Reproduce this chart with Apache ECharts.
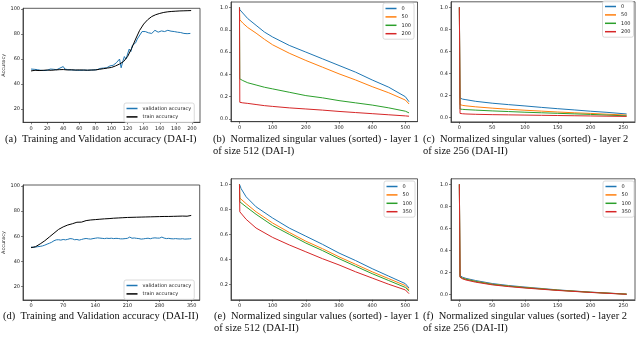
<!DOCTYPE html>
<html><head><meta charset="utf-8">
<script src="https://cdn.jsdelivr.net/npm/echarts@6/dist/echarts.min.js"></script>
<style>html,body{margin:0;padding:0;background:#fff}#c{width:640px;height:338px}</style>
</head><body><div id="c"></div>
<script>
// ---------- DATA ----------
// (a) DAI-I accuracy
const accAValX = [0,2,4,6,8,10,12,14,16,18,20,22,24,26,28,30,32,34,36,38,40,42,44,46,48,50,52,54,56,58,60,62,64,66,68,70,72,74,76,78,80,82,84,86,88,90,92,94,96,98,100,102,104,106,108,110,112,114,116,118,120,122,124,126,128,130,132,134,136,138,140,142,144,146,148,150,152,154,156,158,160,162,164,166,168,170,172,174,176,178,180,182,184,186,188,190,192,194,196,198];
const accAVal = [52,51.5,51.8,51,51.5,51.2,51,51.6,50.8,51.3,51,
  51.5,52,51.2,51.8,52.3,51.5,52,52.8,53.5,54,
  52,53,51.5,52,51.3,51.8,51.2,51.5,51,51.4,
  51,51.6,51.2,51.8,51,51.5,51.2,50.8,51.3,51,
  51.5,52,52.5,53.5,52.8,54,53,53.8,54.5,53.5,
  55,55.5,57,56,60,53,58,62,60,64,
  68,66,71,70,73,76,77,80,82,81.5,
  82,80.5,81,79.5,80.5,82,83,82,81.5,82,
  82.5,82,82,82.5,83,82.8,82.3,82.5,82,81.5,
  81.5,81,81.2,81,80.5,80.8,80.3,80.2,80.5];
const accATrainX = [0,5,10,15,20,25,30,35,40,45,50,55,60,65,70,75,80,85,90,95,100,105,110,115,120,125,130,135,140,145,150,155,160,165,170,175,180,185,190,195,199];
const accATrain = [50.5,51,50.8,51,51.2,51,51.3,51.5,51.6,51.3,51.4,51.2,51.3,51.2,51.1,51.2,51.3,51.8,52.3,52.8,53.3,54.5,56,58,62,68.5,76,83,88,91.5,94,95.5,96.5,97.3,97.8,98.1,98.3,98.5,98.6,98.7,98.8];
// (d) DAI-II accuracy
const accDValX = [0,5,10,15,20,25,30,35,40,45,50,55,60,65,70,75,80,85,90,95,100,105,110,115,120,125,130,135,140,145,150,155,160,165,170,175,180,185,190,195,200,205,210,215,220,225,230,235,240,245,250,255,260,265,270,275,280,285,290,295,300,305,310,315,320,325,330,335,340,345,349];
const accDVal = [51.5,51.2,51.5,51.8,52,52.4,53,53.8,54.5,55.3,56.5,57.2,57.3,57,57.5,57.2,57.6,58.2,58,57.3,57.5,57,57.5,58,58.3,58,57.8,58.2,58.5,58.8,58.6,58.4,58.2,58.5,58.3,58.5,58.2,58.4,58.3,58,58,58.2,58.4,59.4,58.5,58.7,58.4,58.2,57.8,58,58.3,58.5,58.1,58.6,58.8,58.6,58.6,59.4,58.6,58.2,58.4,58.1,58,58.2,58,57.9,58.1,57.8,57.9,58,58.2];
const accDTrainX = [0,10,20,30,40,50,60,70,80,90,100,110,120,130,140,150,160,170,180,190,200,210,220,230,240,250,260,270,280,290,300,310,320,330,340,349];
const accDTrain = [51,51.8,54,56.5,59.5,62.5,65.5,67.5,69,70,71.2,71.3,72.5,73,73.3,73.6,73.9,74.1,74.4,74.6,74.8,75,75.1,75.2,75.3,75.4,75.5,75.6,75.7,75.8,75.8,75.9,76,76.1,76,76.6];

// (b) DAI-I layer 1 (512)
const svBX = [0,1,10,25,50,75,100,150,200,250,300,350,400,450,500,511];
const svB0   = [1.0,0.98,0.95,0.90,0.84,0.78,0.735,0.66,0.60,0.54,0.48,0.42,0.35,0.285,0.20,0.155];
const svB50  = [1.0,0.89,0.86,0.82,0.77,0.715,0.665,0.59,0.525,0.465,0.405,0.35,0.29,0.235,0.17,0.135];
const svB100 = [1.0,0.36,0.345,0.325,0.305,0.285,0.27,0.24,0.21,0.19,0.165,0.145,0.125,0.10,0.07,0.055];
const svB200 = [1.0,0.15,0.145,0.14,0.13,0.12,0.113,0.10,0.09,0.08,0.068,0.058,0.048,0.038,0.028,0.025];
// (c) DAI-I layer 2 (256)
const svCX = [0,1,5,10,25,50,75,100,125,150,175,200,225,255];
const svC0   = [1.0,0.175,0.165,0.16,0.145,0.128,0.115,0.103,0.09,0.078,0.067,0.055,0.045,0.03];
const svC50  = [1.0,0.115,0.108,0.104,0.095,0.083,0.073,0.064,0.056,0.048,0.041,0.035,0.028,0.02];
const svC100 = [1.0,0.075,0.072,0.07,0.065,0.058,0.052,0.046,0.041,0.036,0.031,0.026,0.02,0.013];
const svC200 = [1.0,0.035,0.032,0.03,0.027,0.024,0.022,0.02,0.018,0.016,0.014,0.012,0.01,0.008];
// (e) DAI-II layer 1 (512)
const svEX = [0,1,5,20,50,100,150,200,250,300,350,400,450,500,511];
const svE0   = [1.0,0.99,0.965,0.90,0.82,0.73,0.65,0.585,0.52,0.45,0.39,0.325,0.265,0.205,0.17];
const svE50  = [1.0,0.89,0.88,0.845,0.78,0.69,0.615,0.545,0.485,0.42,0.36,0.30,0.245,0.19,0.155];
const svE100 = [1.0,0.86,0.85,0.82,0.76,0.67,0.60,0.53,0.47,0.405,0.345,0.285,0.23,0.175,0.145];
const svE350 = [1.0,0.78,0.77,0.72,0.65,0.575,0.515,0.46,0.405,0.355,0.30,0.25,0.20,0.155,0.125];
// (f) DAI-II layer 2 (256)
const svFX = [0,1,2,5,10,25,50,75,100,150,200,255];
const svF0   = [1.0,0.17,0.165,0.155,0.145,0.125,0.098,0.08,0.066,0.04,0.02,0.002];
const svF50  = [1.0,0.16,0.155,0.148,0.138,0.118,0.092,0.075,0.062,0.038,0.019,0.002];
const svF100 = [1.0,0.158,0.152,0.145,0.136,0.116,0.09,0.074,0.06,0.037,0.018,0.001];
const svF350 = [1.0,0.155,0.15,0.14,0.13,0.11,0.086,0.07,0.057,0.035,0.017,0.0];

// tick labels
const accXTicksA = [0,20,40,60,80,100,120,140,160,180,200];
const accXTicksD = [0,70,140,210,280,350];
const accYTicks = [20,40,60,80,100];
const svXTicks512 = [0,100,200,300,400,500];
const svXTicks256 = [0,50,100,150,200,250];
const svYTicks = [0,0.2,0.4,0.6,0.8,1.0];
const svYTicksE = [0.2,0.4,0.6,0.8,1.0];

const captions = [
  ['(a)  Training and Validation accuracy (DAI-I)'],
  ['(b)  Normalized singular values (sorted) - layer 1','of size 512 (DAI-I)'],
  ['(c)  Normalized singular values (sorted) - layer 2','of size 256 (DAI-II)'],
  ['(d)  Training and Validation accuracy (DAI-II)'],
  ['(e)  Normalized singular values (sorted) - layer 1','of size 512 (DAI-II)'],
  ['(f)  Normalized singular values (sorted) - layer 2','of size 256 (DAI-II)']
];

// ---------- CHART ----------
const C = ['#1f77b4','#ff7f0e','#2ca02c','#d62728'];
const zip = (xs, ys) => xs.map((x,i)=>[x, ys[i]]);
const TF = 'DejaVu Sans';
const grids = [
  {left:21.7, top:8.3, width:178.3, height:114},
  {left:231, top:2, width:186.5, height:119.7},
  {left:451, top:1.8, width:184, height:120.1},
  {left:21.5, top:185, width:178.2, height:115},
  {left:231, top:178.8, width:186.5, height:121},
  {left:451, top:178.8, width:184, height:121}
];
const xr = [[-10,210],[-25.55,536.55],[-12.75,267.75],[-17.5,367.5],[-25.55,536.55],[-12.75,267.75]];
const yr = [[9.4,100.6],[-0.024,1.049],[-0.042,1.05],[9.4,100.8],[0.076,1.044],[-0.05,1.05]];
const xt = [accXTicksA, svXTicks512, svXTicks256, accXTicksD, svXTicks512, svXTicks256];
const yt = [accYTicks, svYTicks, svYTicks, accYTicks, svYTicksE, svYTicks];

const axisCommon = {
  axisLine:{show:true,onZero:false,lineStyle:{color:'#333',width:0.8}},
  splitLine:{show:false}
};
const xAxis = grids.map((g,i)=>({
  type:'value', gridIndex:i, min:xr[i][0], max:xr[i][1], ...axisCommon,
  axisTick:{show:true,length:2,customValues:xt[i],lineStyle:{color:'#333',width:0.6}},
  axisLabel:{customValues:xt[i],fontFamily:TF,fontSize:5,color:'#222',margin:3.5}
}));
const yAxis = grids.map((g,i)=>({
  type:'value', gridIndex:i, min:yr[i][0], max:yr[i][1], ...axisCommon,
  axisTick:{show:true,length:2,customValues:yt[i],lineStyle:{color:'#333',width:0.6}},
  axisLabel:{customValues:yt[i],fontFamily:TF,fontSize:5,color:'#222',margin:3,
    formatter: (i===0||i===3) ? (v=>String(v)) : (v=>v.toFixed(1))},
  name: (i===0||i===3) ? 'Accuracy' : '', nameLocation:'middle', nameRotate:90, nameGap:17,
  nameTextStyle:{fontFamily:TF,fontSize:5,color:'#222'}
}));

const ln = (name, data, gi, color) => ({
  type:'line', name, data, xAxisIndex:gi, yAxisIndex:gi, showSymbol:false, symbol:'none',
  lineStyle:{width:1,color}, itemStyle:{color}, animation:false, silent:true
});
const series = [
  ln('validation accuracy', zip(accAValX, accAVal), 0, C[0]),
  ln('train accuracy', zip(accATrainX, accATrain), 0, '#000'),
  ln('0', zip(svBX, svB0), 1, C[0]), ln('50', zip(svBX, svB50), 1, C[1]),
  ln('100', zip(svBX, svB100), 1, C[2]), ln('200', zip(svBX, svB200), 1, C[3]),
  ln('0', zip(svCX, svC0), 2, C[0]), ln('50', zip(svCX, svC50), 2, C[1]),
  ln('100', zip(svCX, svC100), 2, C[2]), ln('200', zip(svCX, svC200), 2, C[3]),
  ln('validation accuracy', zip(accDValX, accDVal), 3, C[0]),
  ln('train accuracy', zip(accDTrainX, accDTrain), 3, '#000'),
  ln('0', zip(svEX, svE0), 4, C[0]), ln('50', zip(svEX, svE50), 4, C[1]),
  ln('100', zip(svEX, svE100), 4, C[2]), ln('350', zip(svEX, svE350), 4, C[3]),
  ln('0', zip(svFX, svF0), 5, C[0]), ln('50', zip(svFX, svF50), 5, C[1]),
  ln('100', zip(svFX, svF100), 5, C[2]), ln('350', zip(svFX, svF350), 5, C[3])
];

const legBase = {
  orient:'vertical', icon:'rect', itemWidth:11, itemHeight:1.5, itemGap:0.4,
  padding:[1.5,3,1.5,2.5], backgroundColor:'rgba(255,255,255,0.8)', borderColor:'#d0d0d0',
  borderWidth:0.8, borderRadius:2, selectedMode:false,
  textStyle:{fontFamily:TF,fontSize:5,color:'#222',lineHeight:8}
};
const legend = [
  {...legBase, left:124, top:103, data:['validation accuracy','train accuracy']},
  {...legBase, left:383, top:3, data:['0','50','100','200']},
  {...legBase, left:602.5, top:1, data:['0','50','100','200']},
  {...legBase, left:124, top:280, data:['validation accuracy','train accuracy']},
  {...legBase, left:384, top:181, data:['0','50','100','350']},
  {...legBase, left:603, top:181, data:['0','50','100','350']}
];

const capPos = [[5,140],[213,140],[423,140],[3,317],[214,317],[423,317]];
const graphic = [];
captions.forEach((lines,i)=>{
  lines.forEach((t,j)=>{
    graphic.push({type:'text', left:capPos[i][0], top:capPos[i][1]-6+j*12,
      style:{text:t, font:'10.5px "Liberation Serif"', fill:'#111'}});
  });
});

const chart = echarts.init(document.getElementById('c'), null, {renderer:'canvas'});
chart.setOption({
  animation:false, backgroundColor:'#fff',
  grid: grids.map(g=>({...g, show:true, borderColor:'#333', borderWidth:0.8, containLabel:false})),
  xAxis, yAxis, series, legend, graphic
});
</script></body></html>
